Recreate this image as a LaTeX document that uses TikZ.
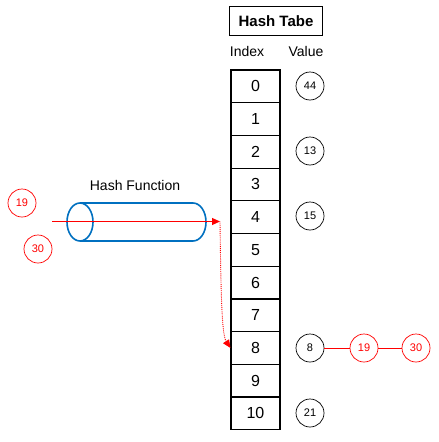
\documentclass[tikz,border=0pt]{standalone}
\usepackage{fontspec}
\setmainfont{Liberation Sans}
\usetikzlibrary{arrows.meta}

\definecolor{pipeblue}{RGB}{0,112,192}
\definecolor{keyred}{RGB}{255,0,0}

\tikzset{
    cell/.style={draw, line width=1.2pt, minimum width=49pt, minimum height=32.7pt, inner sep=0pt, font=\fontsize{16}{16}\selectfont},
    val/.style={draw, circle, line width=0.7pt, minimum size=28pt, inner sep=0pt, font=\fontsize{11}{11}\selectfont},
    newval/.style={val, draw=keyred, text=keyred},
    lbl/.style={font=\fontsize{14}{14}\selectfont},
    flow/.style={draw=keyred, line width=1.2pt, -{Triangle[length=8pt, width=7pt]}},
}

\begin{document}
\begin{tikzpicture}[x=1pt, y=-1pt]
    \useasboundingbox (0,0) rectangle (439,442);

    % hash table
    \node[draw, line width=0.8pt, minimum width=93pt, minimum height=29pt, font=\fontsize{15}{15}\selectfont\bfseries] (T) at (276,21) {Hash Tabe};
    \node[lbl] (I) at (247,51) {Index};
    \node[lbl] (V) at (306,51) {Value};
    \foreach \i in {0,...,10}
        \node[cell] (c\i) at (255.5,{86.35+32.7*\i}) {\i};

    % stored values
    \node[val] (v0)  at (310,86)  {44};
    \node[val] (v2)  at (310,151) {13};
    \node[val] (v4)  at (310,216) {15};
    \node[val] (v8)  at (310,348) {8};
    \node[val] (v10) at (310,413) {21};
    \node[newval] (n19) at (364,348) {19};
    \node[newval] (n30) at (416,348) {30};
    \draw[keyred, line width=1pt] (v8) -- (n19);
    \draw[keyred, line width=1pt] (n19) -- (n30);

    % keys and hash function
    \node[newval] (k19) at (22,203) {19};
    \node[newval] (k30) at (38,249) {30};
    \node[lbl] (H) at (135,185) {Hash Function};
    \draw[pipeblue, line width=1.6pt] (80,222) ellipse (13 and 19);
    \draw[pipeblue, line width=1.6pt] (80,203) -- (193,203) arc (-90:90:13 and 19) -- (80,241);

    \coordinate (src) at (52,221.5);
    \coordinate (hashout) at (220,221.5);
    \draw[flow] (src) -- (hashout);
    \draw[flow, line width=0.9pt, densely dotted] (hashout) .. controls (221,300) and (222,335) .. (c8.west);

\end{tikzpicture}
\end{document}
